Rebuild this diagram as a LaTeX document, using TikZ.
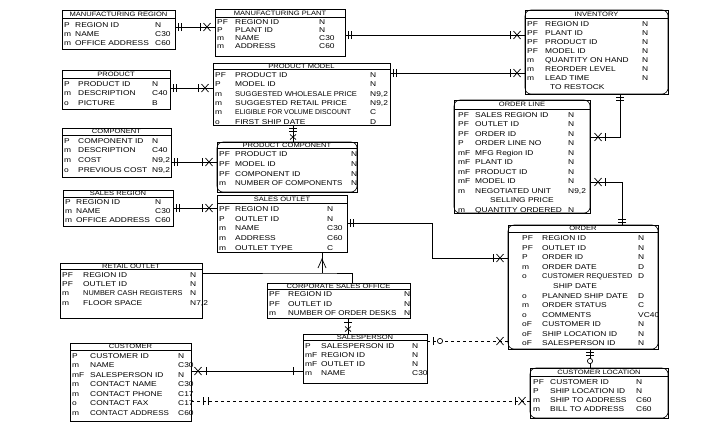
\documentclass[tikz,border=0pt]{standalone}
\usepackage{fontspec}
\usepackage{graphicx}
\setmainfont[FakeStretch=1.2]{Liberation Sans}
\usetikzlibrary{decorations.markings}
\tikzset{
  ebox/.style={draw, line width=0.8pt, inner sep=0pt, outer sep=0pt},
  tline/.style={line width=0.6pt},
  ttl/.style={inner sep=0pt, font=\fontsize{6.3}{7}\selectfont},
  rtxt/.style={inner sep=0pt, anchor=west, text height=5pt, text depth=0pt, font=\fontsize{7}{8}\selectfont},
  conn/.style={line width=0.7pt},
  mk/.style={solid, line width=0.7pt},
  bar at/.style={postaction={decorate, decoration={markings,
      mark=at position #1 with {\draw[mk] (0,-4pt)--(0,4pt);}}}},
  xfoot at/.style={postaction={decorate, decoration={markings,
      mark=at position #1 with {\draw[mk] (-3.5pt,-4pt)--(3.5pt,4pt) (-3.5pt,4pt)--(3.5pt,-4pt);}}}},
  sxfoot at/.style={postaction={decorate, decoration={markings,
      mark=at position #1 with {\draw[mk] (-2.5pt,-3pt)--(2.5pt,3pt) (-2.5pt,3pt)--(2.5pt,-3pt);}}}},
  ring at/.style={postaction={decorate, decoration={markings,
      mark=at position #1 with {\draw[mk, fill=white] (0,0) circle (2.6pt);}}}},
}
\newcommand\sq[2]{\scalebox{#1}[1]{#2}}
% #1 name #2 x1 #3 y1 #4 x2 #5 y2 #6 title #7 rows #8 name offset #9 type offset
\newcommand\entity[9]{%
  \node[ebox, anchor=north west, minimum width={(#4-#2)*1pt}, minimum height={(#5-#3)*1pt}] (#1) at (#2,#3) {};
  \pgfmathsetmacro\erTy{#3+\erTH}%
  \pgfmathsetmacro\erTc{#3+\erTH/2}%
  \pgfmathsetmacro\erXc{(#2+#4)/2}%
  \draw[tline] (#1.west |- 0,\erTy) -- (#1.east |- 0,\erTy);
  \node[ttl] (#1-t) at (\erXc,\erTc) {#6};
  \foreach \ek/\en/\et [count=\ei] in {#7} {%
    \pgfmathsetmacro\erY{#3+\erTH+\erGap+\erRH*(\ei-0.5)}%
    \node[rtxt] (#1-k\ei) at (#2+\erKX,\erY) {\ek};
    \node[rtxt] (#1-n\ei) at (#2+#8,\erY) {\en};
    \node[rtxt] (#1-y\ei) at (#4-#9,\erY) {\et};
  }%
}
\newcommand\depend[1]{\draw[line width=0.6pt, rounded corners=6pt] (#1.north west) rectangle (#1.south east);}
\begin{document}
\begin{tikzpicture}[x=1pt, y=-1pt]
\fill[white] (0,0) rectangle (709,437);
\useasboundingbox (0,0) rectangle (709,437);
\def\erKX{2}\def\erGap{1}

\def\erTH{8}\def\erRH{9}\def\erGap{2}
\entity{mreg}{62}{10}{175}{49}{MANUFACTURING REGION}{P/REGION ID/N, m/NAME/C30, m/OFFICE ADDRESS/C60}{13}{20}
\def\erTH{8}\def\erRH{8}\def\erGap{1}
\entity{mplant}{215}{9}{345}{56}{MANUFACTURING PLANT}{PF/REGION ID/N, P/PLANT ID/N, m/NAME/C30, m/ADDRESS/C60}{20}{26}
\def\erTH{8}\def\erRH{9}
\entity{inv}{525}{10}{668}{94}{INVENTORY}{PF/REGION ID/N, PF/PLANT ID/N, PF/PRODUCT ID/N, PF/MODEL ID/N, m/QUANTITY ON HAND/N, m/REORDER LEVEL/N, m/LEAD TIME/N, {}/{\hspace*{5pt}TO RESTOCK}/{}}{20}{26}
\depend{inv}
\def\erTH{8}\def\erRH{9.5}
\entity{product}{62}{70}{170}{109}{PRODUCT}{P/PRODUCT ID/N, m/DESCRIPTION/C40, o/PICTURE/B}{16}{18}
\def\erTH{7}\def\erRH{9.6}
\entity{component}{62}{128}{171}{177}{COMPONENT}{P/COMPONENT ID/N, m/DESCRIPTION/C40, m/COST/{N9,2}, o/PREVIOUS COST/{N9,2}}{16}{19}
\def\erTH{6}\def\erRH{9.4}
\entity{pmodel}{213}{63}{390}{125}{PRODUCT MODEL}{PF/PRODUCT ID/N, P/MODEL ID/N, m/{\sq{0.9}{SUGGESTED WHOLESALE PRICE}}/{N9,2}, m/SUGGESTED RETAIL PRICE/{N9,2}, m/{\sq{0.82}{ELIGIBLE FOR VOLUME DISCOUNT}}/C, o/FIRST SHIP DATE/D}{22}{20}
\def\erTH{6.5}\def\erRH{9.6}
\entity{pcomp}{217}{142}{357}{192}{PRODUCT COMPONENT}{PF/PRODUCT ID/N, PF/MODEL ID/N, PF/COMPONENT ID/N, m/{\sq{0.95}{NUMBER OF COMPONENTS}}/N}{18}{6}
\depend{pcomp}
\def\erTH{8}\def\erRH{9.7}
\entity{soutlet}{217}{195}{347}{252}{SALES OUTLET}{PF/REGION ID/N, P/OUTLET ID/N, m/NAME/C30, m/ADDRESS/C60, m/OUTLET TYPE/C}{18}{20}
\def\erTH{7}\def\erRH{8.8}
\entity{sreg}{63}{190}{173}{226}{SALES REGION}{P/REGION ID/N, m/NAME/C30, m/OFFICE ADDRESS/C60}{13}{18}
\def\erTH{6}\def\erRH{9.3}
\entity{retail}{60}{263}{202}{318}{RETAIL OUTLET}{PF/REGION ID/N, PF/OUTLET ID/N, m/{\sq{0.88}{NUMBER CASH REGISTERS}}/N, m/FLOOR SPACE/{N7,2}}{23}{12}
\def\erTH{6}\def\erRH{9.5}\def\erGap{0.5}
\entity{corp}{267}{283}{410}{318}{CORPORATE SALES OFFICE}{PF/REGION ID/N, PF/OUTLET ID/N, m/{\sq{0.95}{NUMBER OF ORDER DESKS}}/N}{21}{6}
\def\erTH{9}\def\erRH{9.5}\def\erGap{1}\def\erKX{4}
\entity{oline}{454}{100}{590}{213}{ORDER LINE}{PF/SALES REGION ID/N, PF/OUTLET ID/N, PF/ORDER ID/N, P/ORDER LINE NO/N, mF/MFG Region ID/N, mF/PLANT ID/N, mF/PRODUCT ID/N, mF/MODEL ID/N, m/NEGOTIATED UNIT/{N9,2}, {}/{\hspace*{15pt}SELLING PRICE}/{}, m/QUANTITY ORDERED/N}{21}{22}
\depend{oline}
\def\erTH{7.5}\def\erRH{9.55}\def\erKX{14}
\entity{order}{508}{225}{658}{349}{ORDER}{PF/REGION ID/N, PF/OUTLET ID/N, P/ORDER ID/N, m/ORDER DATE/D, o/{\sq{0.88}{CUSTOMER REQUESTED}}/D, {}/{\hspace*{11pt}SHIP DATE}/{}, o/PLANNED SHIP DATE/D, m/ORDER STATUS/C, o/COMMENTS/VC40, oF/CUSTOMER ID/N, oF/SHIP LOCATION ID/N, oF/SALESPERSON ID/N}{34}{20}
\depend{order}
\def\erTH{8}\def\erRH{9}\def\erKX{3}
\entity{cloc}{530}{368}{668}{418}{CUSTOMER LOCATION}{PF/CUSTOMER ID/N, P/SHIP LOCATION ID/N, m/SHIP TO ADDRESS/C60, m/BILL TO ADDRESS/C60}{20}{32}
\depend{cloc}
\def\erTH{7}\def\erRH{9.5}\def\erKX{2}
\entity{cust}{70}{343}{191}{421}{CUSTOMER}{P/CUSTOMER ID/N, m/NAME/C30, mF/SALESPERSON ID/N, m/CONTACT NAME/C30, m/CONTACT PHONE/C17, o/CONTACT FAX/C17, m/{\sq{0.95}{CONTACT ADDRESS}}/C60}{20}{13}
\def\erTH{6}\def\erRH{9}
\entity{sp}{303}{334}{427}{383}{SALESPERSON}{P/SALESPERSON ID/N, mF/REGION ID/N, mF/OUTLET ID/N, m/NAME/C30}{18}{15}

% connectors
\draw[conn, bar at=3pt, bar at=6pt, bar at=-15pt, xfoot at=-8pt] (mreg.east |- 0,27) -- (mplant.west |- 0,27);
\draw[conn, bar at=3pt, bar at=6pt, bar at=-15pt, xfoot at=-8pt] (mplant.east |- 0,35) -- (inv.west |- 0,35);
\draw[conn, bar at=3pt, bar at=6pt, bar at=-15pt, xfoot at=-8pt] (pmodel.east |- 0,73) -- (inv.west |- 0,73);
\draw[conn, bar at=3pt, bar at=6pt, bar at=-15pt, xfoot at=-8pt] (product.east |- 0,88) -- (pmodel.west |- 0,88);
\draw[conn, bar at=3pt, bar at=6pt, bar at=-15pt, xfoot at=-8pt] (component.east |- 0,162) -- (pcomp.west |- 0,162);
\draw[conn, bar at=3pt, bar at=6pt, sxfoot at=-5pt] (pmodel.south -| 293,0) -- (pcomp.north -| 293,0);
\draw[conn, bar at=3pt, bar at=6pt, bar at=-15pt, xfoot at=-8pt] (sreg.east |- 0,208) -- (soutlet.west |- 0,208);
\coordinate (so1) at (432,223);
\coordinate (so2) at (432,258);
\draw[conn, bar at=3pt, bar at=6pt, bar at=-15pt, xfoot at=-8pt] (soutlet.east |- so1) -- (so1) -- (so2) -- (order.west |- so2);
% subtype structure
\coordinate (sub) at (322,273);
\coordinate (subr) at (352,273);
\draw[conn] (soutlet.south -| sub) -- (sub);
\draw[conn] (318,268) -- (322,259) -- (326,268);
\draw[conn] (retail.east |- sub) -- (sub) -- (subr) -- (corp.north -| subr);
\draw[conn, bar at=4pt, sxfoot at=-5pt] (corp.south -| 348,0) -- (sp.north -| 348,0);
\draw[conn, xfoot at=7pt, bar at=15pt, bar at=-10pt] (cust.east |- 0,371) -- (sp.west |- 0,371);
\draw[conn, dashed, bar at=12pt, bar at=17pt, bar at=-15pt, xfoot at=-8pt] (cust.east |- 0,401) -- (cloc.west |- 0,401);
\draw[conn, dashed, bar at=6pt, ring at=13pt, xfoot at=-8pt] (sp.east |- 0,341) -- (order.west |- 0,341);
\draw[conn, bar at=3pt, bar at=6pt, ring at=-7pt] (order.south -| 590,0) -- (cloc.north -| 590,0);
\coordinate (iv) at (620,137);
\draw[conn, bar at=3pt, bar at=6pt, bar at=-15pt, xfoot at=-8pt] (inv.south -| iv) -- (iv) -- (oline.east |- iv);
\coordinate (ov) at (622,182);
\draw[conn, bar at=3pt, bar at=6pt, bar at=-15pt, xfoot at=-8pt] (order.north -| ov) -- (ov) -- (oline.east |- ov);
\end{tikzpicture}
\end{document}
